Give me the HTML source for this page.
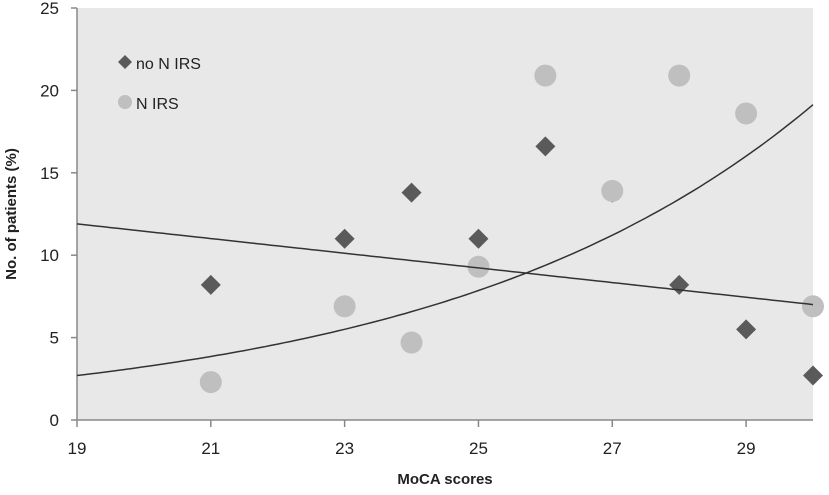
<!DOCTYPE html>
<html><head><meta charset="utf-8"><style>
html,body{margin:0;padding:0;background:#fff;}
svg text{font-family:"Liberation Sans",sans-serif;fill:#222;}
</style></head><body>
<svg id="c" width="829" height="490" xmlns="http://www.w3.org/2000/svg"></svg>
<script>
const xTicks=[19,21,23,25,27,29];
const yTicks=[0,5,10,15,20,25];
const moca=[21,23,24,25,26,27,28,29,30];
const noNirs=[8.2,11,13.8,11,16.6,13.8,8.2,5.5,2.7];
const nirs=[2.3,6.9,4.7,9.3,20.9,13.9,20.9,18.6,6.9];
const linTrend=[11.9,-0.445]; // value at 19, slope
const expTrend=[2.7,0.178];   // value at 19, growth rate
const X0=77,X1=813,Y0=420,Y1=8;
const sx=v=>X0+(v-19)*(X1-X0)/11;
const sy=v=>Y0-v*(Y0-Y1)/25;
const svg=document.getElementById('c');
const NS='http://www.w3.org/2000/svg';
function mk(t,a,p){const e=document.createElementNS(NS,t);for(const k in a)e.setAttribute(k,a[k]);(p||svg).appendChild(e);return e;}
let e=mk('rect',{x:X0,y:Y1,width:X1-X0,height:Y0-Y1,fill:'#e8e8e8'});


mk('line',{x1:X0,y1:Y1,x2:X0,y2:Y0,stroke:'#888','stroke-width':1.5});
mk('line',{x1:X0,y1:Y0,x2:X1,y2:Y0,stroke:'#888','stroke-width':1.5});
yTicks.forEach(v=>{
  mk('line',{x1:X0-6,y1:sy(v),x2:X0,y2:sy(v),stroke:'#888','stroke-width':1.5});
  const t=mk('text',{x:X0-18,y:sy(v)+6,'text-anchor':'end','font-size':17});
  t.textContent=v;
  
  
});
xTicks.forEach(v=>{
  mk('line',{x1:sx(v),y1:Y0,x2:sx(v),y2:Y0+7,stroke:'#888','stroke-width':1.5});
  const t=mk('text',{x:sx(v),y:Y0+34,'text-anchor':'middle','font-size':17});
  t.textContent=v;
  
  
});
let t=mk('text',{x:(X0+X1)/2,y:484,'text-anchor':'middle','font-size':15,'font-weight':'bold'});
t.textContent='MoCA scores';


t=mk('text',{x:0,y:0,'text-anchor':'middle','font-size':15,'font-weight':'bold',transform:'translate(16,214) rotate(-90)'});
t.textContent='No. of patients (%)';


// points: diamonds first, circles on top
moca.forEach((x,i)=>{
  const cx=sx(x),cy=sy(noNirs[i]),r=10;
  const p=mk('polygon',{points:`${cx},${cy-r} ${cx+r},${cy} ${cx},${cy+r} ${cx-r},${cy}`,fill:'#5a5a5a'});
  
  
});
moca.forEach((x,i)=>{
  const c=mk('circle',{cx:sx(x),cy:sy(nirs[i]),r:11,fill:'#bfbfbf'});
  
  
});
// trend lines
let d='',d2='';
for(let i=0;i<=110;i++){const x=19+i/10;
  d+=(i?'L':'M')+sx(x).toFixed(1)+','+sy(linTrend[0]+linTrend[1]*(x-19)).toFixed(1);
  d2+=(i?'L':'M')+sx(x).toFixed(1)+','+sy(expTrend[0]*Math.exp(expTrend[1]*(x-19))).toFixed(1);}
e=mk('path',{d:d,fill:'none',stroke:'#333','stroke-width':1.5});


e=mk('path',{d:d2,fill:'none',stroke:'#333','stroke-width':1.5});


// legend
e=mk('polygon',{points:'125,55 132,62 125,69 118,62',fill:'#5a5a5a'});


t=mk('text',{x:136,y:69,'font-size':16});
t.textContent='no N IRS';


e=mk('circle',{cx:125,cy:102,r:7,fill:'#bfbfbf'});


t=mk('text',{x:136,y:109,'font-size':16});
t.textContent='N IRS';


</script>
</body></html>
